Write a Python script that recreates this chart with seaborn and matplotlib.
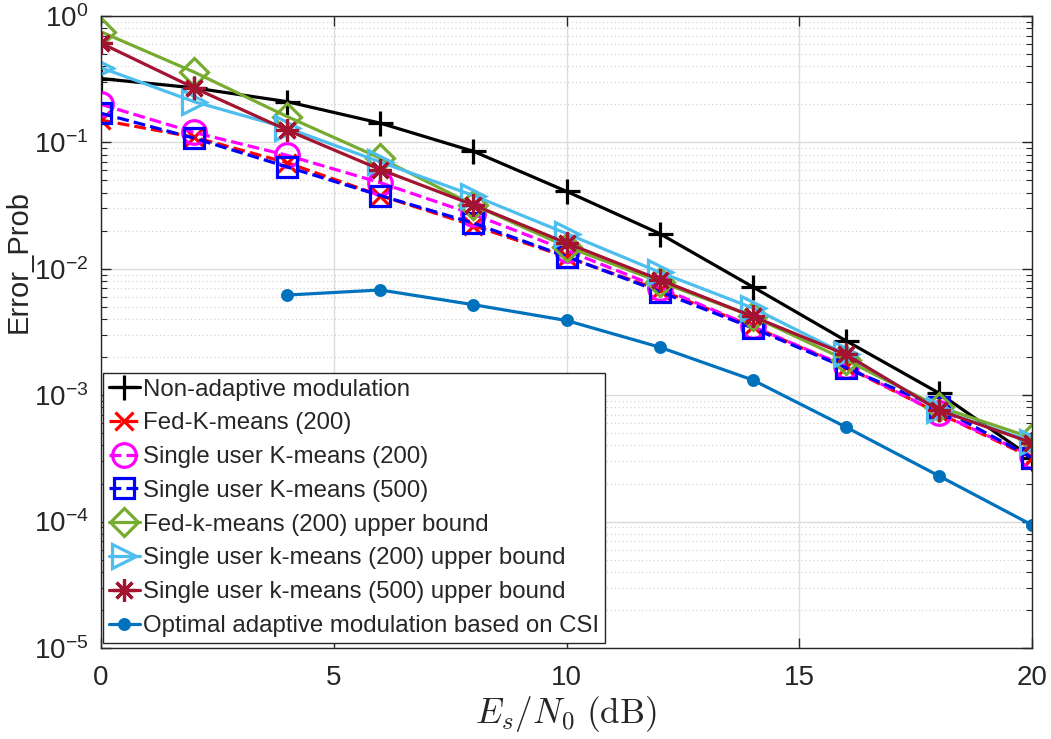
import numpy as np
import pandas as pd
import matplotlib
matplotlib.use("Agg")
import matplotlib.pyplot as plt
import seaborn as sns
from matplotlib.ticker import LogLocator, NullFormatter, FixedLocator

snr_db = [0, 2, 4, 6, 8, 10, 12, 14, 16, 18, 20]
snr_db_opt = [4, 6, 8, 10, 12, 14, 16, 18, 20]

non_adaptive = [0.32, 0.27, 0.21, 0.142, 0.085, 0.041, 0.019, 0.0072, 0.0027, 0.00104, 0.00032]
fed_kmeans_200 = [0.15, 0.11, 0.069, 0.038, 0.022, 0.0124, 0.0068, 0.0035, 0.00167, 0.00072, 0.00032]
single_kmeans_200 = [0.20, 0.12, 0.079, 0.048, 0.027, 0.014, 0.0071, 0.0035, 0.0017, 0.00072, 0.00033]
single_kmeans_500 = [0.17, 0.108, 0.064, 0.038, 0.023, 0.0125, 0.0066, 0.0034, 0.00165, 0.00080, 0.00032]
fed_kmeans_200_ub = [0.75, 0.36, 0.16, 0.075, 0.032, 0.015, 0.0079, 0.0042, 0.0019, 0.00081, 0.00046]
single_kmeans_200_ub = [0.39, 0.21, 0.13, 0.070, 0.038, 0.019, 0.0094, 0.0049, 0.0021, 0.00076, 0.00043]
single_kmeans_500_ub = [0.61, 0.27, 0.125, 0.061, 0.032, 0.016, 0.0082, 0.0042, 0.0021, 0.00076, 0.00042]
optimal_csi = [0.0062, 0.0068, 0.0052, 0.0039, 0.0024, 0.00132, 0.00056, 0.00023, 0.000094]

labels = [
    "Non-adaptive modulation",
    "Fed-K-means (200)",
    "Single user K-means (200)",
    "Single user K-means (500)",
    "Fed-k-means (200) upper bound",
    "Single user k-means (200) upper bound",
    "Single user k-means (500) upper bound",
    "Optimal adaptive modulation based on CSI",
]

sns.set_theme(style="white")
plt.rcParams["font.family"] = ["Liberation Sans", "DejaVu Sans"]
plt.rcParams["mathtext.fontset"] = "cm"
plt.rcParams["axes.unicode_minus"] = False

fig = plt.figure(figsize=(10.51, 7.39), dpi=100)
ax = fig.add_axes([101 / 1051, 1 - 648 / 739, (1032 - 101) / 1051, (648 - 16) / 739])

series = [
    (snr_db, non_adaptive, "black", "+", "-", False, 18),
    (snr_db, fed_kmeans_200, "#FF0000", "x", "--", False, 13),
    (snr_db, single_kmeans_200, "#FF00FF", "o", "--", False, 17),
    (snr_db, single_kmeans_500, "#0000FF", "s", "--", False, 15),
    (snr_db, fed_kmeans_200_ub, "#77AC30", "D", "-", False, 14),
    (snr_db, single_kmeans_200_ub, "#4DBEEE", ">", "-", False, 17),
    (snr_db, single_kmeans_500_ub, "#A2142F", (8, 2, 0), "-", False, 16),
    (snr_db_opt, optimal_csi, "#0072BD", "o", "-", True, 7),
]

for (xs, ys, col, mk, ls, filled, ms), lab in zip(series, labels):
    sns.lineplot(
        x=xs, y=ys, ax=ax, color=col, marker=mk, linestyle=ls,
        markersize=ms, markerfacecolor=col if filled else "none",
        markeredgecolor=col, markeredgewidth=2.3, linewidth=2.3,
        label=lab, sort=False, errorbar=None,
        **({"dashes": (4.5, 3.0)} if ls == "--" else {}),
    )

ax.set_yscale("log")
ax.set_xlim(0, 20)
ax.set_ylim(1e-5, 1)
ax.xaxis.set_major_locator(FixedLocator([0, 5, 10, 15, 20]))
ax.yaxis.set_major_locator(LogLocator(base=10, numticks=10))
ax.yaxis.set_minor_locator(LogLocator(base=10, subs=np.arange(2, 10), numticks=20))
ax.yaxis.set_minor_formatter(NullFormatter())

ax.grid(True, which="major", color="#dcdcdc", linewidth=1.0, linestyle="-")
ax.grid(True, which="minor", axis="y", color="#cfcfcf", linewidth=0.8, linestyle=(0, (1, 2.5)))
ax.set_axisbelow(True)

ax.tick_params(axis="both", which="both", direction="in", top=True, right=True,
               bottom=True, left=True, colors="#262626", labelcolor="#262626",
               labelsize=20)
ax.tick_params(which="major", length=7, width=1)
ax.tick_params(which="minor", length=4, width=0.8)
ax.tick_params(axis="x", pad=12.5)
ax.tick_params(axis="y", pad=9)
for s in ax.spines.values():
    s.set_visible(True)
    s.set_color("#262626")
    s.set_linewidth(1.0)

ax.set_xlabel(r"$E_s/N_0\ \mathrm{(dB)}$", fontsize=25.5, color="#262626", labelpad=2)
ax.set_ylabel("Error_Prob", fontsize=21, color="#262626")
ax.yaxis.set_label_coords(-0.073, 0.612)

leg = ax.legend(loc="lower left", bbox_to_anchor=(0.002, 0.008), fontsize=17.3,
                frameon=True, fancybox=False, framealpha=1, edgecolor="#262626",
                handlelength=1.3, handletextpad=0.1, labelspacing=0.49,
                borderpad=0.25, borderaxespad=0.0, numpoints=1)
leg.get_frame().set_linewidth(1.0)

fig.savefig("out.png", dpi=100)
